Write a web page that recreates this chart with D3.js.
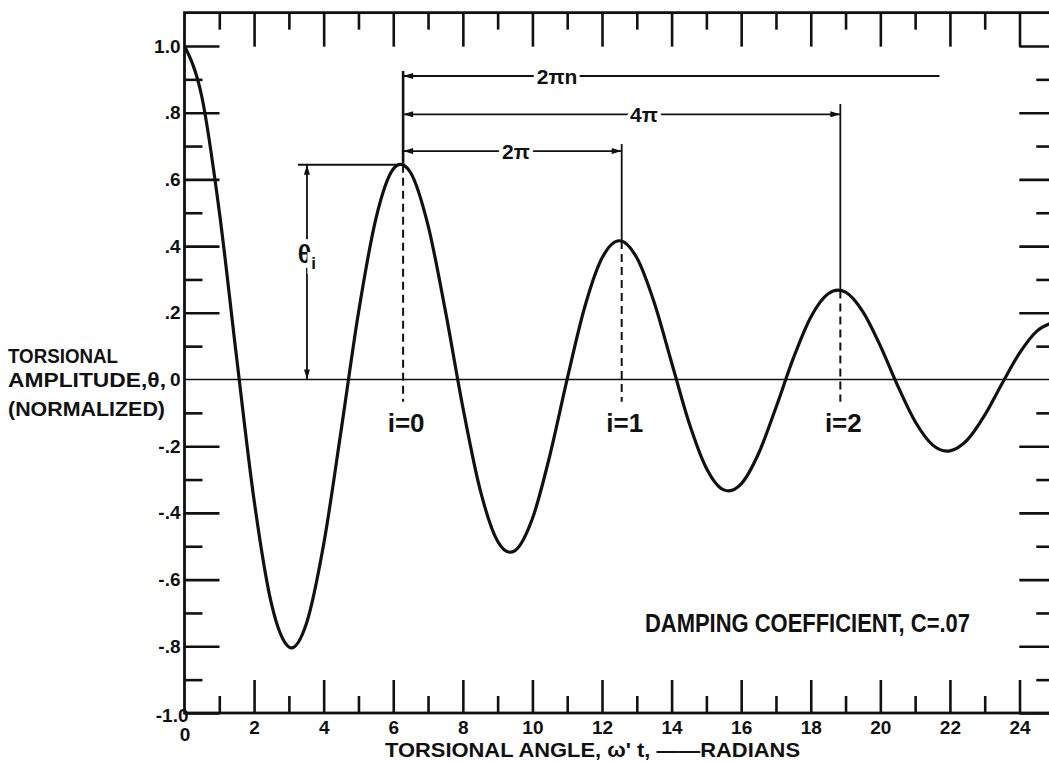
<!DOCTYPE html>
<html><head><meta charset="utf-8">
<script src="https://cdn.jsdelivr.net/npm/d3@7"></script>
<style>
html,body{margin:0;padding:0;background:#fff;overflow:hidden}
svg{display:block}
text{font-family:"Liberation Sans",Arial,sans-serif;font-weight:bold;fill:#111}
</style></head><body>
<svg id="c" width="1049" height="761"></svg>
<script>
// ---- data ----
const curveT = [0,0.5,1,1.5,2,2.5,3,3.07,3.5,4,4.5,5,5.5,6,6.21,6.5,7,7.5,8,8.5,9,9.35,9.5,10,10.5,11,11.5,12,12.5,13,13.5,14,14.5,15,15.5,15.64,16,16.5,17,17.5,18,18.5,18.78,19,19.5,20,20.5,21,21.5,21.92,22,22.5,23,23.5,24,24.5,25];
const curveTheta = [1.000,0.847,0.504,0.064,-0.362,-0.673,-0.802,-0.805,-0.733,-0.494,-0.154,0.200,0.482,0.631,0.645,0.620,0.462,0.205,-0.083,-0.332,-0.485,-0.518,-0.513,-0.417,-0.228,0.002,0.216,0.364,0.416,0.365,0.231,0.051,-0.129,-0.266,-0.331,-0.334,-0.313,-0.222,-0.084,0.064,0.187,0.257,0.268,0.262,0.203,0.101,-0.019,-0.126,-0.196,-0.215,-0.214,-0.181,-0.107,-0.012,0.079,0.145,0.172];
const xMajorTicks = [0,2,4,6,8,10,12,14,16,18,20,22,24];
const xTickLabels = ["0","2","4","6","8","10","12","14","16","18","20","22","24"];
const xMinorTicks = [1,3,5,7,9,11,13,15,17,19,21,23];
const yMajorTicks = [-1,-0.8,-0.6,-0.4,-0.2,0,0.2,0.4,0.6,0.8,1];
const yTickLabels = ["-1.0","-.8","-.6","-.4","-.2","0",".2",".4",".6",".8","1.0"];
const yMinorTicks = [-0.9,-0.7,-0.5,-0.3,-0.1,0.1,0.3,0.5,0.7,0.9];
const peakT = [6.283,12.566,18.850];
const peakTheta = [0.644,0.415,0.267];
const peakLabels = ["i=0","i=1","i=2"];
const spanLabels = ["2π","4π","2πn"];
const spanEnd = [12.566,18.850,21.7];
const yTitle = ["TORSIONAL","AMPLITUDE,θ,","(NORMALIZED)"];
const xTitle = "TORSIONAL ANGLE, ω' t, ——RADIANS";
const noteText = "DAMPING COEFFICIENT, C=.07";

// ---- layout ----
const svg = d3.select("#c");
const x = d3.scaleLinear().domain([0,25]).range([184.5,1054.3]);
const y = d3.scaleLinear().domain([-1,1.1]).range([713,12.65]);
const ink = "#111";

const defs = svg.append("defs");
defs.append("marker").attr("id","arr").attr("viewBox","0 0 10 6")
  .attr("refX",10).attr("refY",3).attr("markerUnits","userSpaceOnUse")
  .attr("markerWidth",11).attr("markerHeight",6).attr("orient","auto-start-reverse")
  .append("path").attr("d","M0,0L10,3L0,6Z").attr("fill",ink);
defs.append("clipPath").attr("id","plot").append("rect")
  .attr("x",x(0)).attr("y",y(1.1)).attr("width",x(25)-x(0)).attr("height",y(-1)-y(1.1));

const lblFmt = (arr, labels) => d => labels[arr.indexOf(d)];

function styleAxis(g, w){
  g.select(".domain").remove();
  g.selectAll(".tick line").attr("stroke",ink).attr("stroke-width",w);
}
// left
svg.append("g").attr("transform",`translate(${x(0)},0)`)
  .call(d3.axisLeft(y).tickValues(yMajorTicks).tickSize(-35).tickPadding(4).tickFormat(lblFmt(yMajorTicks,yTickLabels)))
  .call(g=>{styleAxis(g,2.6); g.selectAll("text").attr("font-size",19).attr("fill",ink).attr("font-family",null).attr("font-weight","bold");
    g.selectAll(".tick").filter(d=>d===-1).select("text").attr("x",4).attr("dy","0.45em");
    g.selectAll(".tick").filter(d=>d===0).select("line").remove();});
svg.append("g").attr("transform",`translate(${x(0)},0)`)
  .call(d3.axisLeft(y).tickValues(yMinorTicks).tickSize(-18).tickFormat(""))
  .call(g=>styleAxis(g,2.6));
// right
svg.append("g").attr("transform",`translate(${x(25)},0)`)
  .call(d3.axisRight(y).tickValues(yMajorTicks.filter(d=>d!==0)).tickSize(-35).tickFormat(""))
  .call(g=>styleAxis(g,2.6));
svg.append("g").attr("transform",`translate(${x(25)},0)`)
  .call(d3.axisRight(y).tickValues(yMinorTicks).tickSize(-18).tickFormat(""))
  .call(g=>styleAxis(g,2.6));
// bottom
svg.append("g").attr("transform",`translate(0,${y(-1)})`)
  .call(d3.axisBottom(x).tickValues(xMajorTicks).tickSize(-33).tickPadding(8).tickFormat(lblFmt(xMajorTicks,xTickLabels)))
  .call(g=>{styleAxis(g,2.6); g.selectAll("text").attr("font-size",19).attr("fill",ink).attr("font-family",null).attr("font-weight","bold");
    g.selectAll(".tick").filter(d=>d===0).select("text").attr("dy","1.05em");
    g.selectAll(".tick").filter(d=>d===0).select("line").remove();});
svg.append("g").attr("transform",`translate(0,${y(-1)})`)
  .call(d3.axisBottom(x).tickValues(xMinorTicks).tickSize(-17).tickFormat(""))
  .call(g=>styleAxis(g,2.6));
// top
svg.append("g").attr("transform",`translate(0,${y(1.1)})`)
  .call(d3.axisTop(x).tickValues(xMajorTicks.filter(d=>d!==0)).tickSize(-34).tickFormat(""))
  .call(g=>styleAxis(g,2.6));
svg.append("g").attr("transform",`translate(0,${y(1.1)})`)
  .call(d3.axisTop(x).tickValues(xMinorTicks).tickSize(-17).tickFormat(""))
  .call(g=>styleAxis(g,2.6));

// frame
svg.append("rect").attr("x",x(0)).attr("y",y(1.1)).attr("width",x(25)-x(0)).attr("height",y(-1)-y(1.1))
  .attr("fill","none").attr("stroke",ink).attr("stroke-width",2.8);
// zero line
svg.append("line").attr("x1",x(0)).attr("x2",x(25)).attr("y1",y(0)).attr("y2",y(0))
  .attr("stroke",ink).attr("stroke-width",1.5);

// curve
const pts = curveT.map((t,i)=>[t,curveTheta[i]]);
svg.append("path").datum(pts).attr("clip-path","url(#plot)")
  .attr("d",d3.line().x(d=>x(d[0])).y(d=>y(d[1])).curve(d3.curveMonotoneX))
  .attr("fill","none").attr("stroke",ink).attr("stroke-width",3.2).attr("stroke-linejoin","round");

// peak markers: solid above, dashed below
const topOfPeak = [0.925,0.706,0.826];
peakT.forEach((t,i)=>{
  svg.append("line").attr("x1",x(t)).attr("x2",x(t)).attr("y1",y(topOfPeak[i])).attr("y2",y(peakTheta[i]))
    .attr("stroke",ink).attr("stroke-width",i===0?2.6:1.8);
  svg.append("line").attr("x1",x(t)).attr("x2",x(t)).attr("y1",y(peakTheta[i])).attr("y2",y(-0.067))
    .attr("stroke",ink).attr("stroke-width",2).attr("stroke-dasharray","8,5");
  svg.append("text").attr("x",x(t)+3).attr("y",y(-0.157)).attr("text-anchor","middle")
    .attr("font-size",26).text(peakLabels[i]);
});

// dimension lines
const spanRow = [0.685,0.795,0.91];
const spanLabelX = [516,644,557];
spanLabels.forEach((lab,i)=>{
  const ln = svg.append("line").attr("x1",x(peakT[0])).attr("x2",x(spanEnd[i]))
    .attr("y1",y(spanRow[i])).attr("y2",y(spanRow[i])).attr("stroke",ink).attr("stroke-width",1.8)
    .attr("marker-start","url(#arr)");
  if(i<2) ln.attr("marker-end","url(#arr)");
  svg.append("text").attr("x",spanLabelX[i]).attr("y",y(spanRow[i])).attr("dy","0.36em")
    .attr("text-anchor","middle").attr("font-size",21)
    .attr("stroke","#fff").attr("stroke-width",7).attr("paint-order","stroke").text(lab);
});

// theta_i
const thX = 3.52;
svg.append("line").attr("x1",x(3.26)).attr("x2",x(peakT[0])).attr("y1",y(peakTheta[0])).attr("y2",y(peakTheta[0]))
  .attr("stroke",ink).attr("stroke-width",1.8);
svg.append("line").attr("x1",x(thX)).attr("x2",x(thX)).attr("y1",y(0)).attr("y2",y(peakTheta[0]))
  .attr("stroke",ink).attr("stroke-width",1.8).attr("marker-start","url(#arr)").attr("marker-end","url(#arr)");
const th = svg.append("text").attr("x",x(thX)).attr("y",y(0.375)).attr("dy","0.36em").attr("text-anchor","middle")
  .attr("font-size",25).attr("stroke","#fff").attr("stroke-width",10).attr("paint-order","stroke");
th.append("tspan").text("θ");
th.append("tspan").attr("font-size",17).attr("dy","0.3em").text("i");

// titles
const yT = svg.append("g");
const yLens = [110,158,157];
const yBase = [363,387,416];
yTitle.forEach((s,i)=>{
  yT.append("text").attr("x",8).attr("y",yBase[i]).attr("font-size",19.5)
    .attr("textLength",yLens[i]).attr("lengthAdjust","spacingAndGlyphs").text(s);
});
svg.append("text").attr("x",385).attr("y",757).attr("font-size",20)
  .attr("textLength",415).attr("lengthAdjust","spacingAndGlyphs").text(xTitle);
svg.append("text").attr("x",645).attr("y",632).attr("font-size",25)
  .attr("textLength",325).attr("lengthAdjust","spacingAndGlyphs").text(noteText);
</script></body></html>
